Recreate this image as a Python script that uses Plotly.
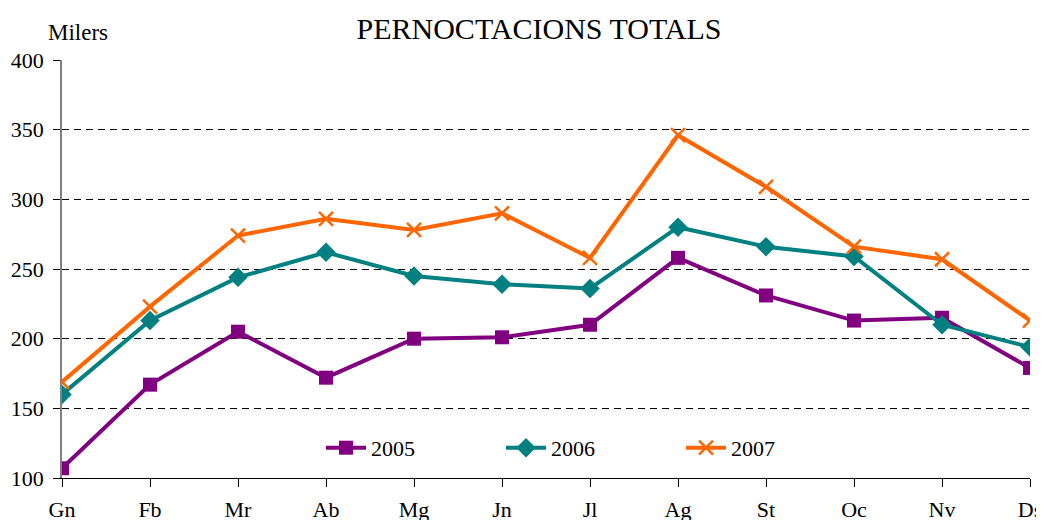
import plotly.graph_objects as go

months = ["Gn", "Fb", "Mr", "Ab", "Mg", "Jn", "Jl", "Ag", "St", "Oc", "Nv", "Ds"]
v2005 = [107, 167, 205, 172, 200, 201, 210, 258, 231, 213, 215, 179]
v2006 = [160, 213, 244, 262, 245, 239, 236, 280, 266, 259, 210, 194]
v2007 = [169, 223, 274, 286, 278, 290, 258, 346, 309, 266, 257, 213]
yticks = [100, 150, 200, 250, 300, 350, 400]

FONT = "Liberation Serif, Times New Roman, serif"
W, H = 1036, 512  # page body has an 8px margin

fig = go.Figure()
fig.add_trace(go.Scatter(x=months, y=v2005, name="2005", mode="lines+markers",
                         line=dict(color="#800080", width=4),
                         marker=dict(symbol="square", size=14, color="#800080")))
fig.add_trace(go.Scatter(x=months, y=v2006, name="2006", mode="lines+markers",
                         line=dict(color="#008080", width=4),
                         marker=dict(symbol="diamond", size=15, color="#008080")))
fig.add_trace(go.Scatter(x=months, y=v2007, name="2007", mode="lines+markers",
                         line=dict(color="#FF6600", width=4),
                         marker=dict(symbol="x-thin", size=14, color="#FF6600",
                                     line=dict(color="#FF6600", width=2.5))))

fig.update_layout(
    width=W, height=H,
    margin=dict(l=54, r=14, t=52, b=42, autoexpand=False),
    paper_bgcolor="white", plot_bgcolor="white",
    font=dict(family=FONT, size=22, color="black"),
    title=dict(text="PERNOCTACIONS TOTALS", x=531 / W, xanchor="center",
               y=1 - 20 / H, yanchor="middle",
               font=dict(family=FONT, size=30, color="black")),
    showlegend=True,
    legend=dict(orientation="h", x=0.5465, xanchor="center", y=0.072, yanchor="middle",
                bgcolor="rgba(0,0,0,0)", font=dict(family=FONT, size=22),
                itemwidth=40, entrywidth=125, tracegroupgap=0),
    xaxis=dict(type="category", range=[0, 11], showgrid=False, automargin=False,
               showline=True, linecolor="black", linewidth=1,
               ticks="outside", ticklen=8, tickcolor="black",
               ticklabelstandoff=4, tickfont=dict(family=FONT, size=22)),
    yaxis=dict(range=[100, 400], tickvals=yticks, showgrid=True, automargin=False,
               gridcolor="black", gridwidth=1, griddash="7px,5px",
               showline=True, linecolor="#808080", linewidth=1.5,
               ticks="outside", ticklen=7, tickcolor="black",
               ticklabelstandoff=5, tickfont=dict(family=FONT, size=22),
               zeroline=False),
    annotations=[dict(text="Milers", xref="paper", yref="paper", x=16 / 968, y=1.0,
                      xanchor="center", yanchor="middle", yshift=28, showarrow=False,
                      font=dict(family=FONT, size=23, color="black"))],
)

fig.write_html("out.html")
